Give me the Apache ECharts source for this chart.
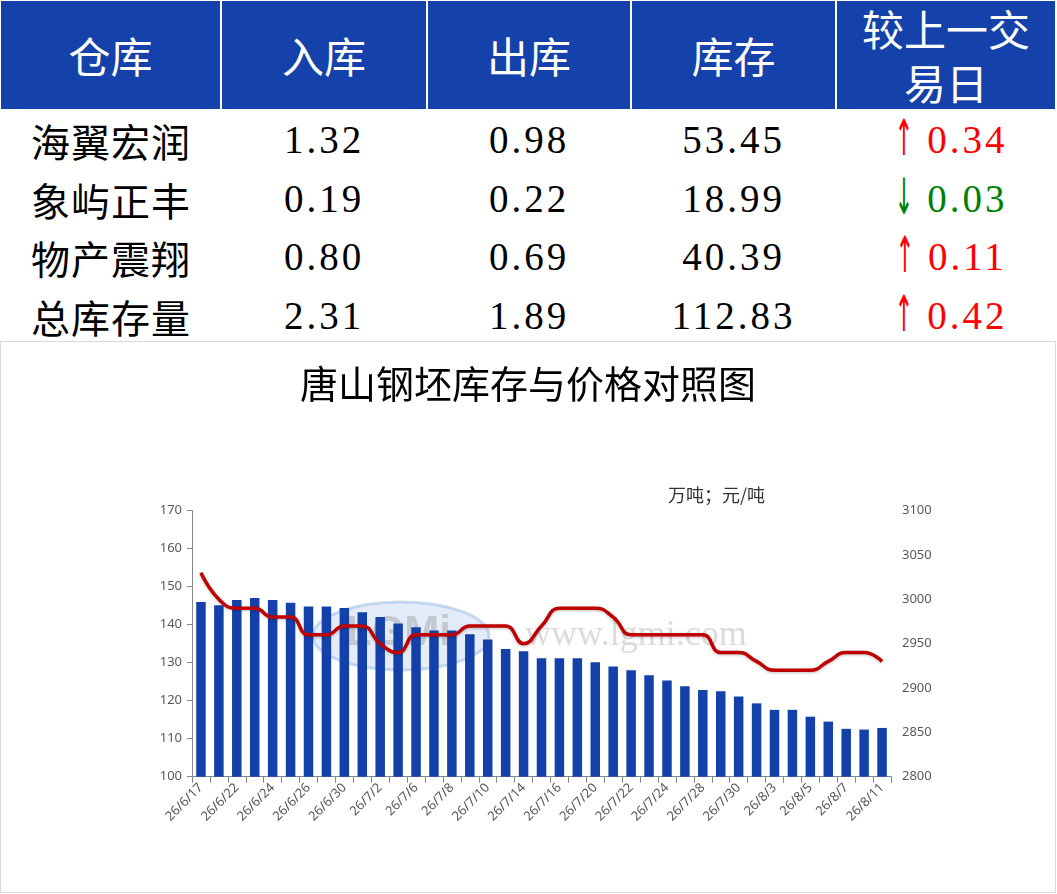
<!DOCTYPE html>
<html>
<head>
<meta charset="utf-8">
<title>唐山钢坯库存与价格对照图</title>
<script src="https://cdn.jsdelivr.net/npm/echarts@6/dist/echarts.min.js"></script>
<style>
  body { margin: 0; background: #fff; width: 1057px; height: 894px; position: relative; overflow: hidden; }
  #tbl { position: absolute; left: 1px; top: 1px; border-collapse: collapse; table-layout: fixed; }
  #tbl th { background: #1442AA; color: #fff; font-weight: normal; font-family: "Noto Sans CJK SC", sans-serif;
            font-size: 42px; height: 108px; border-left: 2px solid #fff; padding: 0; line-height: 54px; }
  #tbl th:first-child { border-left: none; }
  #tbl td { height: 58.5px; padding: 0; text-align: center; font-family: "Liberation Serif", "Noto Sans CJK SC", serif;
            font-size: 39px; letter-spacing: 3px; color: #000; line-height: 44px; }
  #tbl td.name { font-family: "Noto Sans CJK SC", sans-serif; font-size: 39px; letter-spacing: 1px; }
  #tbl tr.first td { padding-top: 2px; }
  #tbl td.up { color: #ff0000; }
  #tbl td.down { color: #008000; }
  .arr { font-family: "DejaVu Sans", sans-serif; font-size: 50px; line-height: 30px; letter-spacing: 0; margin-right: 2px;
         display: inline-block; transform: scaleX(0.45); vertical-align: -2px; }
  #chart { position: absolute; left: 0; top: 341px; width: 1056px; height: 552px; box-sizing: border-box; border: 1px solid #d9d9d9; }
</style>
</head>
<body>
<table id="tbl">
  <colgroup><col style="width:220px"><col style="width:206px"><col style="width:204px"><col style="width:205px"><col style="width:219px"></colgroup>
  <thead><tr id="head"></tr></thead>
  <tbody id="body"></tbody>
</table>
<div id="chart"></div>
<script>
// 表格
var headers = ['仓库', '入库', '出库', '库存', '较上一交<br>易日'];
var names = ['海翼宏润', '象屿正丰', '物产震翔', '总库存量'];
var inbound = ['1.32', '0.19', '0.80', '2.31'];
var outbound = ['0.98', '0.22', '0.69', '1.89'];
var stock = ['53.45', '18.99', '40.39', '112.83'];
var change = ['0.34', '0.03', '0.11', '0.42'];
var changeDir = ['up', 'down', 'up', 'up'];

// 图表
var dates = ['26/6/17','26/6/19','26/6/22','26/6/23','26/6/24','26/6/25','26/6/26','26/6/29','26/6/30',
  '26/7/1','26/7/2','26/7/3','26/7/6','26/7/7','26/7/8','26/7/9','26/7/10','26/7/13','26/7/14','26/7/15',
  '26/7/16','26/7/17','26/7/20','26/7/21','26/7/22','26/7/23','26/7/24','26/7/27','26/7/28','26/7/29',
  '26/7/30','26/7/31','26/8/3','26/8/4','26/8/5','26/8/6','26/8/7','26/8/10','26/8/11'];
var stockSeries = [146.0,145.1,146.5,147.0,146.5,145.8,144.8,144.8,144.4,143.3,
  142.0,140.3,139.3,138.5,138.5,137.5,136.1,133.6,133.0,131.2,
  131.2,131.2,130.1,129.0,128.0,126.7,125.3,123.8,122.8,122.5,
  121.1,119.3,117.6,117.6,115.8,114.5,112.6,112.41,112.83];
var priceSeries = [3030,3000,2990,2990,2980,2980,2960,2960,2970,2970,
  2950,2940,2960,2960,2960,2970,2970,2970,2950,2970,
  2990,2990,2990,2980,2960,2960,2960,2960,2960,2940,
  2940,2930,2920,2920,2920,2930,2940,2940,2930];

var h = '';
headers.forEach(function (t) { h += '<th>' + t + '</th>'; });
document.getElementById('head').innerHTML = h;
var b = '';
names.forEach(function (n, i) {
  var arrow = changeDir[i] === 'up' ? '↑' : '↓';
  b += '<tr' + (i === 0 ? ' class="first"' : '') + '><td class="name">' + n + '</td><td>' + inbound[i] + '</td><td>' + outbound[i] +
       '</td><td>' + stock[i] + '</td><td class="' + changeDir[i] + '"><span class="arr">' + arrow + '</span>' + change[i] + '</td></tr>';
});
document.getElementById('body').innerHTML = b;

var myChart = echarts.init(document.getElementById('chart'));
var axisGray = '#868686';
var labelGray = '#595959';
var option = {
  animation: false,
  title: {
    text: '唐山钢坯库存与价格对照图',
    left: 'center', top: 23, padding: 0,
    textStyle: { fontFamily: 'Noto Sans CJK SC', fontSize: 38, fontWeight: 'normal', color: '#000' }
  },
  graphic: [
    { type: 'ellipse', shape: { cx: 400, cy: 294, rx: 88, ry: 34 }, z: -1,
      style: { fill: 'rgba(175,200,235,0.35)', stroke: 'rgba(150,185,230,0.5)', lineWidth: 3 } },
    { type: 'text', left: 345, top: 270, z: -1,
      style: { text: 'LGMi', fill: 'rgba(160,160,160,0.45)', font: 'bold 42px "Liberation Sans"' } },
    { type: 'text', left: 524, top: 276, z: -1,
      style: { text: 'www.lgmi.com', fill: 'rgba(190,190,190,0.55)', font: '36px "Liberation Serif"' } },
    { type: 'text', left: 667, top: 144,
      style: { text: '万吨；元/吨', fill: '#333', font: '18px "Noto Sans CJK SC"' } }
  ],
  grid: { left: 191, right: 164, top: 168.7, bottom: 115.3 },
  xAxis: {
    type: 'category',
    data: dates,
    boundaryGap: true,
    axisLine: { lineStyle: { color: axisGray, width: 1 } },
    axisTick: { show: true, interval: 0, length: 6, lineStyle: { color: axisGray } },
    axisLabel: { interval: 1, rotate: 45, color: labelGray, fontSize: 13, fontFamily: 'Noto Sans', margin: 9 }
  },
  yAxis: [
    {
      type: 'value', min: 100, max: 170, interval: 10,
      axisLine: { show: true, lineStyle: { color: axisGray } },
      axisTick: { show: true, length: 5, lineStyle: { color: axisGray } },
      axisLabel: { color: labelGray, fontSize: 13, fontFamily: 'Noto Sans', margin: 10 },
      splitLine: { show: false }
    },
    {
      type: 'value', min: 2800, max: 3100, interval: 50,
      axisLine: { show: false }, axisTick: { show: false },
      axisLabel: { color: labelGray, fontSize: 13, fontFamily: 'Noto Sans', margin: 11, formatter: function (v) { return String(v); } },
      splitLine: { show: false }
    }
  ],
  series: [
    { name: '库存', type: 'bar', data: stockSeries, barWidth: 9.5, yAxisIndex: 0,
      itemStyle: { color: '#1441A9' } },
    { name: '价格', type: 'line', data: priceSeries, yAxisIndex: 1, smooth: 0.5, showSymbol: false,
      lineStyle: { color: '#C00000', width: 3.5, shadowColor: 'rgba(0,0,0,0.25)', shadowBlur: 3, shadowOffsetY: 1 } }
  ]
};
myChart.setOption(option);
</script>
</body>
</html>
